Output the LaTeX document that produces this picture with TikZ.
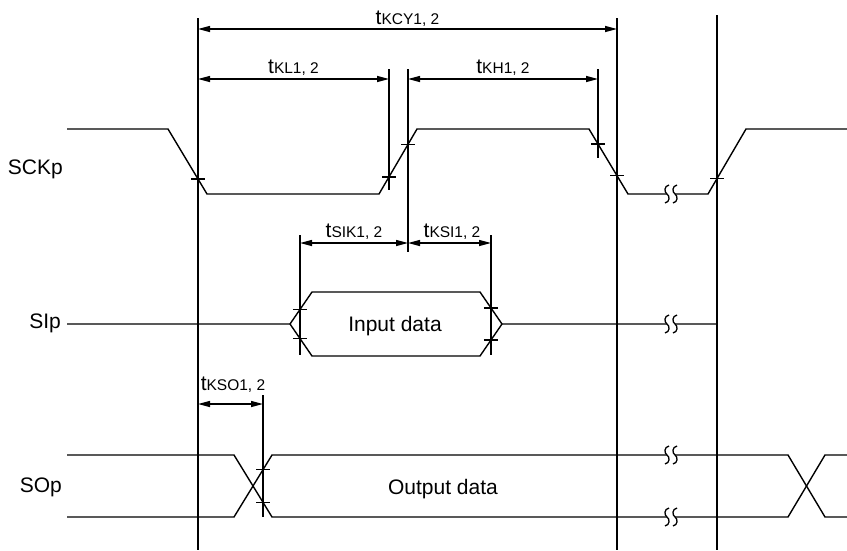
\documentclass[tikz,border=0pt]{standalone}
\usepackage{fontspec}
\setmainfont{Liberation Sans}
\usetikzlibrary{arrows.meta,calc}
\newcommand\tsub[1]{{\fontsize{21}{24}\selectfont t}{\fontsize{15.5}{18}\selectfont #1}}
\begin{document}
\begin{tikzpicture}[x=1pt,y=-1pt,
  sig/.style={line width=1.4pt, line join=miter},
  vline/.style={line width=1.4pt},
  tickmark/.style={line width=1.4pt},
  dim/.style={line width=1.4pt, {Triangle[length=12pt,width=6pt]}-{Triangle[length=12pt,width=6pt]}},
  lbl/.style={font=\fontsize{21}{24}\selectfont, inner sep=0pt},
  tlbl/.style={inner sep=0pt, anchor=base},
  brk/.pic={
    \fill[white] (-4,-9) rectangle (4,9);
    \draw[line width=1.3pt] (-2,-9) .. controls (-7,-8) and (-7,-2) .. (-4,0) .. controls (-1,2) and (-1,8) .. (-6,9);
    \draw[line width=1.3pt] (6,-9) .. controls (1,-8) and (1,-2) .. (4,0) .. controls (7,2) and (7,8) .. (2,9);
  }]
\fill[white] (0,0) rectangle (847,550);
\useasboundingbox (0,0) rectangle (847,550);

% vertical reference lines
\coordinate (v1t) at (198,18);  \coordinate (v1b) at (198,550);
\coordinate (v2t) at (617,18);  \coordinate (v2b) at (617,550);
\coordinate (v3t) at (717,15);  \coordinate (v3b) at (717,550);
\coordinate (a1t) at (389,69);  \coordinate (a1b) at (389,190);
\coordinate (a2t) at (408,69);  \coordinate (a2b) at (408,252);
\coordinate (a3t) at (598,69);  \coordinate (a3b) at (598,158);
\coordinate (b1t) at (300,235); \coordinate (b1b) at (300,355);
\coordinate (b2t) at (491,235); \coordinate (b2b) at (491,355);
\coordinate (c1t) at (263,395); \coordinate (c1b) at (263,517);
\foreach \p in {v1,v2,v3,a1,a2,a3,b1,b2,c1}
  \draw[vline] (\p t) -- (\p b);

% signal labels
\node[lbl, anchor=base east] (sck) at (63,174) {SCKp};
\node[lbl, anchor=base east] (si) at (61,328) {SIp};
\node[lbl, anchor=base east] (so) at (62,492) {SOp};

% SCKp waveform
\draw[sig] (67,129) -- (168,129) -- (207,194) -- (379,194) -- (417,129) -- (589,129) -- (628,194) -- (708,194) -- (746,129) -- (847,129);

% SIp waveform
\draw[sig] (67,324) -- (290,324) -- (312,292) -- (480,292) -- (502,324) -- (717,324);
\draw[sig] (290,324) -- (312,356) -- (480,356) -- (502,324);
\node[lbl, anchor=base] (indata) at (395,331) {Input data};

% SOp waveform
\draw[sig] (67,455) -- (234,455) -- (272,517) -- (788,517) -- (825,455) -- (847,455);
\draw[sig] (67,517) -- (234,517) -- (272,455) -- (788,455) -- (825,517) -- (847,517);
\node[lbl, anchor=base] (outdata) at (443,494) {Output data};

% break marks
\foreach \yy in {194,324,455,517}
  \pic at (671,\yy) {brk};

% crossing ticks
\coordinate (k1) at (intersection of 168,129--207,194 and 198,0--198,550);
\coordinate (k2) at (intersection of 379,194--417,129 and 389,0--389,550);
\coordinate (k3) at (intersection of 379,194--417,129 and 408,0--408,550);
\coordinate (k4) at (intersection of 589,129--628,194 and 598,0--598,550);
\coordinate (k5) at (intersection of 589,129--628,194 and 617,0--617,550);
\coordinate (k6) at (intersection of 708,194--746,129 and 717,0--717,550);
\coordinate (k7) at (intersection of 290,324--312,292 and 300,0--300,550);
\coordinate (k8) at (intersection of 290,324--312,356 and 300,0--300,550);
\coordinate (k9) at (intersection of 480,292--502,324 and 491,0--491,550);
\coordinate (k10) at (intersection of 480,356--502,324 and 491,0--491,550);
\coordinate (k11) at (intersection of 234,455--272,517 and 263,0--263,550);
\coordinate (k12) at (intersection of 234,517--272,455 and 263,0--263,550);
\foreach \k in {k1,k2,k3,k4,k5,k6,k7,k8,k9,k10,k11,k12}
  \draw[tickmark] ([xshift=-7pt]\k) -- ([xshift=7pt]\k);

% dimension arrows
\coordinate (d1a) at (198,29);  \coordinate (d1b) at (617,29);
\coordinate (d2a) at (198,79);  \coordinate (d2b) at (389,79);
\coordinate (d3a) at (408,79);  \coordinate (d3b) at (598,79);
\coordinate (d4a) at (300,243); \coordinate (d4b) at (408,243);
\coordinate (d5a) at (408,243); \coordinate (d5b) at (491,243);
\coordinate (d6a) at (198,404); \coordinate (d6b) at (263,404);
\foreach \d in {d1,d2,d3,d4,d5,d6}
  \draw[dim] (\d a) -- (\d b);

\node[tlbl] (lkcy) at (407.5,24) {\tsub{KCY1, 2}};
\node[tlbl] (lkl) at (293.5,73) {\tsub{KL1, 2}};
\node[tlbl] (lkh) at (503,73) {\tsub{KH1, 2}};
\node[tlbl] (lsik) at (354,237) {\tsub{SIK1, 2}};
\node[tlbl] (lksi) at (452,237) {\tsub{KSI1, 2}};
\node[tlbl] (lkso) at (233,390) {\tsub{KSO1, 2}};
\end{tikzpicture}
\end{document}
